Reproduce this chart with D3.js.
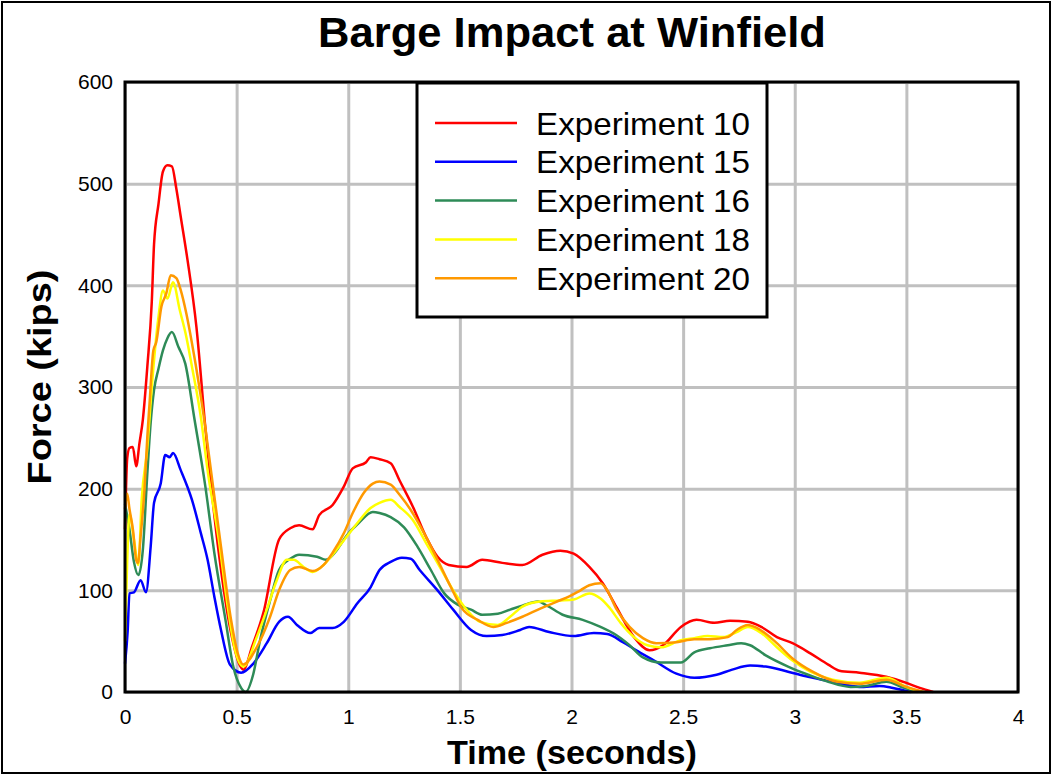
<!DOCTYPE html>
<html>
<head>
<meta charset="utf-8">
<script src="https://cdn.jsdelivr.net/npm/d3@7"></script>
<style>
  body { margin: 0; background: #fff; }
  text { font-family: "Liberation Sans", Arial, sans-serif; }
</style>
</head>
<body>
<div id="chart"></div>
<script>
// tick labels
const xTicks = [0, 0.5, 1, 1.5, 2, 2.5, 3, 3.5, 4];
const yTicks = [0, 100, 200, 300, 400, 500, 600];

const seriesNames = ["Experiment 10", "Experiment 15", "Experiment 16", "Experiment 18", "Experiment 20"];
const seriesColors = ["#ff0000", "#0000ff", "#2e8b57", "#ffff00", "#ff9900"];

// Experiment 10
const exp10T = [0, .01, .02, .035, .05, .065, .08, .1, .12, .13, .15, .17, .19, .21, .23, .25, .28, .32, .36, .42, .475, .52, .53, .57, .62, .69, .74, .78, .84, .87, .93, .98, 1.02, 1.08, 1.1, 1.14, 1.19, 1.23, 1.29, 1.35, 1.40, 1.45, 1.53, 1.60, 1.69, 1.78, 1.87, 1.95, 2.01, 2.08, 2.14, 2.2, 2.28, 2.35, 2.41, 2.49, 2.56, 2.64, 2.71, 2.79, 2.85, 2.92, 2.99, 3.07, 3.15, 3.2, 3.29, 3.41, 3.5, 3.56, 3.62];
const exp10F = [160, 230, 240, 241, 222, 245, 268, 320, 384, 440, 480, 512, 518, 517, 495, 467, 425, 359, 260, 137, 58, 24, 22, 45, 78, 150, 161, 164, 160, 174, 184, 202, 220, 226, 231, 229, 225, 208, 182, 152, 133, 125, 123, 130, 127, 125, 135, 139, 136, 123, 107, 84, 54, 41, 46, 64, 71, 68, 70, 69, 64, 54, 48, 38, 27, 21, 19, 15, 9, 4, 0];

// Experiment 15
const exp15T = [0, .012, .02, .04, .07, .094, .115, .13, .16, .18, .2, .215, .25, .30, .34, .37, .40, .43, .47, .52, .575, .635, .69, .73, .77, .83, .87, .93, .98, 1.04, 1.10, 1.14, 1.19, 1.24, 1.28, 1.32, 1.40, 1.47, 1.55, 1.62, 1.69, 1.77, 1.81, 1.90, 2.01, 2.10, 2.16, 2.23, 2.29, 2.37, 2.47, 2.55, 2.65, 2.72, 2.80, 2.87, 2.97, 3.06, 3.17, 3.29, 3.38, 3.44, 3.52];
const exp15F = [28, 60, 97, 98, 110, 98, 143, 186, 205, 233, 231, 235, 218, 189, 156, 130, 94, 61, 27, 19, 28, 48, 69, 74, 66, 58, 63, 63, 69, 87, 103, 120, 128, 132, 131, 120, 100, 81, 61, 55, 56, 61, 64, 59, 55, 58, 57, 49, 41, 31, 18, 14, 17, 22, 26, 25, 20, 15, 10, 5, 6, 4, 0];

// Experiment 16
const exp16T = [0, .02, .04, .06, .08, .10, .115, .13, .15, .17, .19, .21, .24, .27, .31, .36, .40, .45, .485, .52, .54, .575, .605, .65, .69, .74, .78, .86, .90, .95, .99, 1.05, 1.11, 1.14, 1.19, 1.25, 1.31, 1.37, 1.43, 1.49, 1.55, 1.60, 1.67, 1.725, 1.78, 1.85, 1.89, 1.96, 2.05, 2.13, 2.2, 2.26, 2.32, 2.4, 2.49, 2.55, 2.62, 2.70, 2.76, 2.80, 2.87, 2.97, 3.06, 3.15, 3.25, 3.32, 3.41, 3.49, 3.55];
const exp16F = [185, 160, 128, 115, 140, 215, 265, 297, 318, 336, 348, 354, 339, 323, 270, 202, 137, 71, 25, 4, 0, 18, 51, 90, 120, 131, 135, 133, 130, 140, 153, 167, 177, 176, 172, 162, 143, 120, 97, 86, 81, 76, 77, 81, 85, 89, 85, 76, 71, 64, 56, 46, 34, 29, 29, 39, 43, 46, 48, 46, 36, 25, 17, 10, 5, 6, 10, 4, 0];

// Experiment 18
const exp18T = [0, .01, .02, .04, .06, .075, .10, .12, .15, .17, .19, .215, .245, .275, .30, .34, .37, .42, .46, .49, .53, .59, .635, .68, .725, .755, .80, .84, .89, .93, .98, 1.04, 1.10, 1.14, 1.19, 1.23, 1.29, 1.35, 1.41, 1.47, 1.53, 1.59, 1.67, 1.725, 1.78, 1.86, 1.95, 2.01, 2.08, 2.13, 2.17, 2.22, 2.28, 2.34, 2.40, 2.49, 2.55, 2.61, 2.68, 2.74, 2.79, 2.85, 2.92, 2.99, 3.07, 3.17, 3.29, 3.41, 3.5, 3.56];
const exp18F = [50, 130, 175, 150, 125, 190, 240, 300, 369, 395, 387, 403, 376, 349, 320, 270, 218, 150, 84, 44, 25, 54, 81, 110, 130, 130, 123, 118, 125, 135, 149, 166, 181, 186, 189, 182, 169, 146, 123, 100, 81, 69, 66, 74, 84, 89, 90, 91, 97, 92, 83, 68, 54, 46, 44, 51, 53, 55, 54, 59, 64, 58, 44, 31, 20, 12, 9, 14, 5, 0];

// Experiment 20
const exp20T = [0, .01, .02, .036, .05, .058, .07, .088, .10, .11, .127, .14, .163, .185, .205, .23, .25, .275, .30, .33, .36, .385, .43, .475, .505, .53, .59, .65, .69, .74, .78, .84, .89, .93, .98, 1.02, 1.07, 1.11, 1.14, 1.19, 1.23, 1.28, 1.34, 1.40, 1.46, 1.51, 1.58, 1.65, 1.71, 1.78, 1.86, 1.935, 1.99, 2.04, 2.08, 2.13, 2.16, 2.2, 2.26, 2.32, 2.38, 2.47, 2.55, 2.62, 2.70, 2.74, 2.79, 2.83, 2.91, 2.99, 3.08, 3.19, 3.29, 3.41, 3.5, 3.58];
const exp20F = [180, 195, 180, 159, 130, 127, 153, 202, 251, 284, 336, 344, 379, 392, 410, 407, 395, 372, 343, 304, 260, 218, 143, 71, 38, 27, 44, 74, 100, 120, 123, 119, 125, 137, 156, 176, 196, 205, 207, 204, 194, 179, 156, 130, 103, 82, 71, 64, 68, 74, 82, 89, 94, 100, 105, 107, 100, 82, 64, 53, 48, 49, 52, 52, 54, 61, 66, 63, 50, 33, 20, 10, 8, 12, 5, 0];

const seriesT = [exp10T, exp15T, exp16T, exp18T, exp20T];
const seriesF = [exp10F, exp15F, exp16F, exp18F, exp20F];

const W = 1052, H = 775;
const margin = { top: 82, right: 34, bottom: 83, left: 125 };
const width = W - margin.left - margin.right;
const height = H - margin.top - margin.bottom;

const svg = d3.select("#chart")
  .append("svg")
  .attr("width", W)
  .attr("height", H);

// outer frame
svg.append("rect")
  .attr("x", 2).attr("y", 2)
  .attr("width", W - 4).attr("height", H - 4)
  .attr("fill", "none")
  .attr("stroke", "#000")
  .attr("stroke-width", 2);

const g = svg.append("g")
  .attr("transform", `translate(${margin.left},${margin.top})`);

const xScale = d3.scaleLinear().domain([0, 4]).range([0, width]);
const yScale = d3.scaleLinear().domain([0, 600]).range([height, 0]);

// grid
g.append("g")
  .attr("transform", `translate(0, ${height})`)
  .call(d3.axisBottom(xScale).tickValues(xTicks).tickSize(-height).tickFormat(""))
  .call(s => s.select(".domain").remove())
  .selectAll("line").attr("stroke", "#c0c0c0").attr("stroke-width", 3);

g.append("g")
  .call(d3.axisLeft(yScale).tickValues(yTicks).tickSize(-width).tickFormat(""))
  .call(s => s.select(".domain").remove())
  .selectAll("line").attr("stroke", "#c0c0c0").attr("stroke-width", 3);

// tick labels
const xAxis = g.append("g")
  .attr("transform", `translate(0, ${height})`)
  .call(d3.axisBottom(xScale).tickValues(xTicks).tickSize(0).tickPadding(17).tickFormat(d3.format("")));
xAxis.select(".domain").remove();
xAxis.selectAll("text").attr("font-size", "21px").attr("fill", "#000")
  .style("font-family", "'Liberation Sans', Arial, sans-serif");

const yAxis = g.append("g")
  .call(d3.axisLeft(yScale).tickValues(yTicks).tickSize(0).tickPadding(12));
yAxis.select(".domain").remove();
yAxis.selectAll("text").attr("font-size", "21px").attr("fill", "#000")
  .style("font-family", "'Liberation Sans', Arial, sans-serif");

// lines
const line = d3.line()
  .x(d => xScale(d[0]))
  .y(d => yScale(d[1]))
  .curve(d3.curveMonotoneX);

seriesNames.forEach((name, i) => {
  const pts = seriesT[i].map((t, j) => [t, seriesF[i][j]]);
  g.append("path")
    .datum(pts)
    .attr("fill", "none")
    .attr("stroke", seriesColors[i])
    .attr("stroke-width", 2.5)
    .attr("stroke-linejoin", "round")
    .attr("d", line);
});

// plot frame
g.append("rect")
  .attr("width", width).attr("height", height)
  .attr("fill", "none")
  .attr("stroke", "#000")
  .attr("stroke-width", 3);

// legend
const legend = svg.append("g").attr("transform", "translate(417,83)");
legend.append("rect")
  .attr("width", 350).attr("height", 234)
  .attr("fill", "#fff")
  .attr("stroke", "#000")
  .attr("stroke-width", 3);

seriesNames.forEach((name, i) => {
  const y = 40 + i * 38.8;
  legend.append("line")
    .attr("x1", 18).attr("x2", 100)
    .attr("y1", y).attr("y2", y)
    .attr("stroke", seriesColors[i])
    .attr("stroke-width", 2.5);
  legend.append("text")
    .attr("x", 119).attr("y", y)
    .attr("dy", "0.36em")
    .attr("font-size", "32px")
    .attr("textLength", 214)
    .attr("lengthAdjust", "spacingAndGlyphs")
    .text(name);
});

// title and axis labels
svg.append("text")
  .attr("x", 572).attr("y", 47)
  .attr("text-anchor", "middle")
  .attr("font-size", "42px")
  .attr("font-weight", "bold")
  .attr("textLength", 508)
  .attr("lengthAdjust", "spacingAndGlyphs")
  .text("Barge Impact at Winfield");

svg.append("text")
  .attr("transform", "translate(51,377) rotate(-90)")
  .attr("text-anchor", "middle")
  .attr("font-size", "34px")
  .attr("font-weight", "bold")
  .attr("textLength", 215)
  .attr("lengthAdjust", "spacingAndGlyphs")
  .text("Force (kips)");

svg.append("text")
  .attr("x", 572).attr("y", 764)
  .attr("text-anchor", "middle")
  .attr("font-size", "33px")
  .attr("font-weight", "bold")
  .attr("textLength", 250)
  .attr("lengthAdjust", "spacingAndGlyphs")
  .text("Time (seconds)");
</script>
</body>
</html>
